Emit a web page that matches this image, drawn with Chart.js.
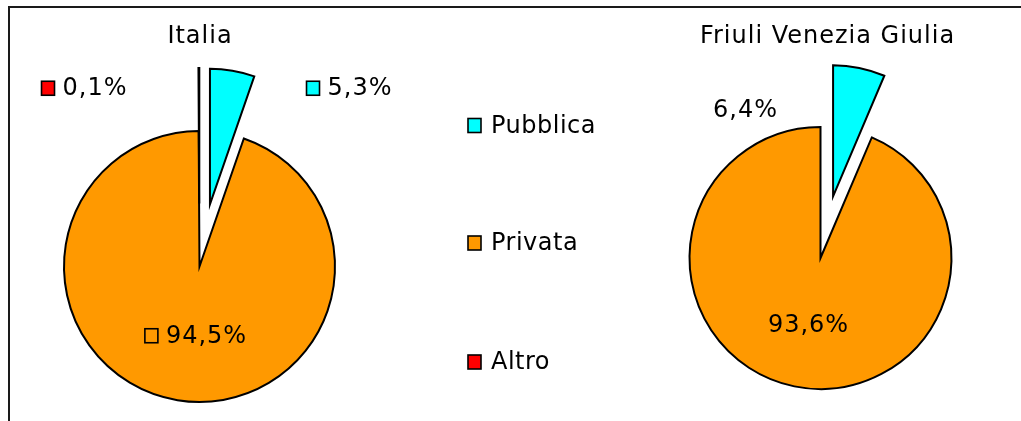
<!DOCTYPE html>
<html>
<head>
<meta charset="utf-8">
<title>Pubblica / Privata - Italia e Friuli Venezia Giulia</title>
<script src="https://cdn.jsdelivr.net/npm/chart.js@4.4.1/dist/chart.umd.min.js"></script>
<style>
  html, body { margin: 0; padding: 0; background: #fff; overflow: hidden; }
  #frame { position: relative; width: 1021px; height: 421px; overflow: hidden; }
  #box { position: absolute; left: 8px; top: 6px; width: 1100px; height: 500px;
         border-top: 2px solid #1a1a1a; border-left: 2px solid #1a1a1a; }
  canvas { position: absolute; top: 0; }
  #italiaChart { left: 0; }
  #friuliChart { left: 640px; }
</style>
</head>
<body>
<div id="frame">
  <div id="box"></div>
  <canvas id="italiaChart" width="640" height="421"></canvas>
  <canvas id="friuliChart" width="381" height="421"></canvas>
</div>
<script>
// Data
const categories = ['Pubblica', 'Privata', 'Altro'];
const regions = ['Italia', 'Friuli Venezia Giulia'];
const italiaValues = [5.3, 94.5, 0.1];
const friuliValues = [6.4, 93.6, 0];
const sliceColors = ['#00FFFF', '#FF9900', '#FF0000'];

const FONT = '"DejaVu Sans", Verdana, sans-serif';

function fmtPct(v) {
    return v.toFixed(1).replace('.', ',') + '%';
}

// moves the exploded slices out along their bisector
const explodePlugin = {
    id: 'explode',
    afterDatasetUpdate(chart, args, opts) {
        const dist = opts.distance || [];
        args.meta.data.forEach((arc, i) => {
            const d = dist[i] || 0;
            if (!d) return;
            const mid = (arc.startAngle + arc.endAngle) / 2;
            arc.x += Math.cos(mid) * d;
            arc.y += Math.sin(mid) * d;
        });
    }
};

function drawKey(ctx, x, bottom, color) {
    ctx.fillStyle = color;
    ctx.fillRect(x, bottom - 14, 13, 14);
    ctx.lineWidth = 1.6;
    ctx.strokeStyle = '#000';
    ctx.strokeRect(x, bottom - 14, 13, 14);
}

// title, value labels and side legend, Excel style
const decorPlugin = {
    id: 'decor',
    afterDraw(chart, args, opts) {
        const ctx = chart.ctx;
        const ds = chart.data.datasets[0];
        const area = chart.chartArea;
        const cx = (area.left + area.right) / 2;
        const cy = (area.top + area.bottom) / 2;
        ctx.save();
        ctx.font = '24px ' + FONT;
        ctx.letterSpacing = '1px';
        ctx.textBaseline = 'alphabetic';
        ctx.fillStyle = '#000';

        if (opts.title) {
            ctx.textAlign = 'center';
            ctx.fillText(opts.title.text, opts.title.x, opts.title.y);
        }

        ctx.textAlign = 'left';
        ds.data.forEach((v, i) => {
            if (!v || !opts.labels[i]) return;
            const txt = fmtPct(v);
            const keyW = opts.showKeys ? 21 : 0;
            const w = keyW + ctx.measureText(txt).width;
            const left = cx + opts.labels[i][0] - w / 2;
            const base = cy + opts.labels[i][1] + 8.75;
            if (opts.showKeys) drawKey(ctx, left, base, ds.backgroundColor[i]);
            ctx.fillStyle = '#000';
            ctx.fillText(txt, left + keyW, base);
        });

        if (opts.legend) {
            ctx.letterSpacing = '0.5px';
            chart.data.labels.forEach((label, i) => {
                const base = opts.legend.baselines[i];
                drawKey(ctx, opts.legend.x, base, ds.backgroundColor[i]);
                ctx.fillStyle = '#000';
                ctx.fillText(label, opts.legend.x + 23, base);
            });
        }
        ctx.restore();
    }
};

function makePie(canvasId, values, radius, padding, decor) {
    return new Chart(document.getElementById(canvasId), {
        type: 'pie',
        data: {
            labels: categories,
            datasets: [{
                data: values,
                backgroundColor: sliceColors,
                borderColor: '#000',
                borderWidth: 2,
                borderJoinStyle: 'miter'
            }]
        },
        options: {
            responsive: false,
            animation: false,
            events: [],
            radius: radius,
            layout: { padding: padding },
            plugins: {
                legend: { display: false },
                tooltip: { enabled: false },
                title: { display: false },
                explode: { distance: [63, 0, 63] },
                decor: decor
            }
        },
        plugins: [explodePlugin, decorPlugin]
    });
}

makePie('italiaChart', italiaValues, 135.5,
    { left: 0, right: 241, top: 112, bottom: 0 },
    {
        title: { text: regions[0], x: 200, y: 43 },
        showKeys: true,
        labels: [[150, -180], [-3.5, 67.5], [-115, -180]],
        legend: { x: 468, baselines: [132.5, 250, 369] }
    });

makePie('friuliChart', friuliValues, 131,
    { left: 0, right: 20, top: 95, bottom: 0 },
    {
        title: { text: regions[1], x: 187.5, y: 43 },
        showKeys: false,
        labels: [[-75, -150], [-12, 65], null]
    });
</script>
</body>
</html>
